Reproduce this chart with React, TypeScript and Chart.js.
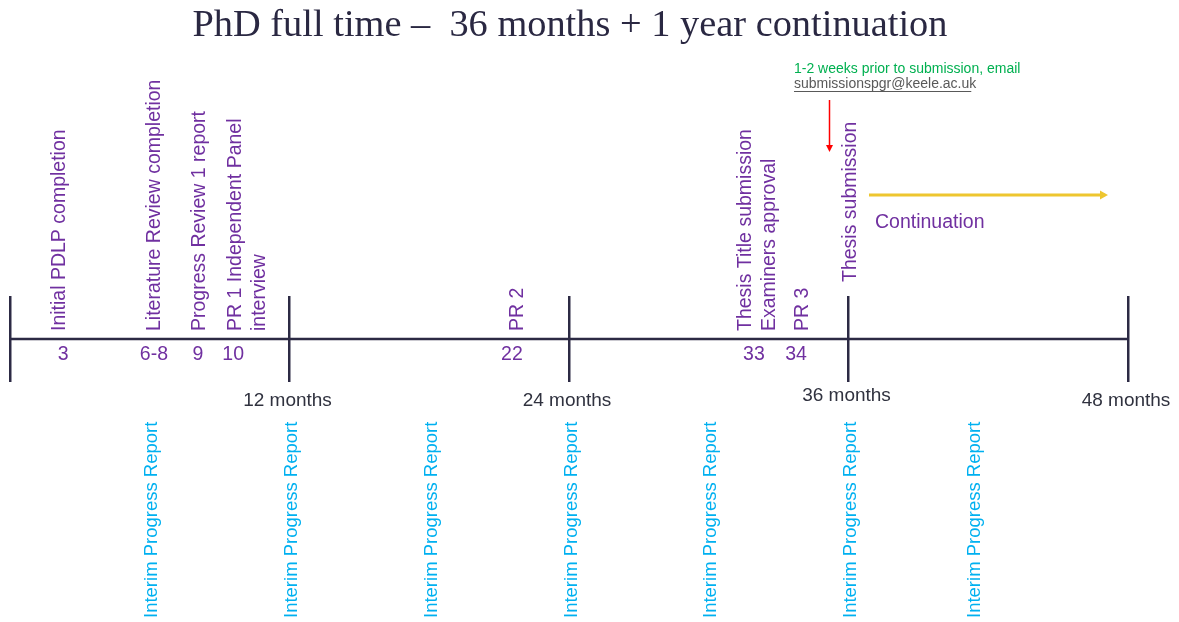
import { useEffect, useRef } from "react";
import { Chart, registerables } from "chart.js";

Chart.register(...registerables);

// ---------- data ----------
const TITLE = "PhD full time \u2013  36 months + 1 year continuation";

const axisMonths = [0, 12, 24, 36, 48];
const axisLabels = ["", "12 months", "24 months", "36 months", "48 months"];

const milestoneLabels = [
  "Initial PDLP completion",
  "Literature Review completion",
  "Progress Review 1 report",
  "PR 1 Independent Panel\ninterview",
  "PR 2",
  "Thesis Title submission\nExaminers approval",
  "PR 3",
];
// where each label sits along the month axis (as drawn)
const milestoneLabelAt = [2.02, 6.1, 8.05, 9.58, 21.68, 31.47, 33.92];
const milestoneNumbers = ["3", "6-8", "9", "10", "22", "33", "34"];
const milestoneNumberAt = [2.28, 6.18, 8.07, 9.58, 21.55, 31.94, 33.75];

const interimLabel = "Interim Progress Report";
const interimAt = [6, 12, 18, 24, 30, 36, 41.3];

const submissionLabel = "Thesis submission";
const submissionAt = 36;

const continuationLabel = "Continuation";
const continuationFrom = 36.88;
const continuationTo = 47.14;

const noteLines = ["1-2 weeks prior to submission, email", "submissionspgr@keele.ac.uk"];
const noteAt = 33.66;
const reminderAt = 35.17;

// ---------- styles ----------
const SANS = '"Liberation Sans", Arial, sans-serif';
const PURPLE = "#7030A0";
const BLUE = "#00B0F0";
const GREEN = "#00B050";
const LINE = "#2c2a44";
const DARK = "#30323f";

const drawRot = (ctx: CanvasRenderingContext2D, text: string, x: number, yStart: number, lh: number) => {
  const lines = text.split("\n");
  ctx.save();
  ctx.translate(x + 2.5, yStart);
  ctx.rotate(-Math.PI / 2);
  ctx.textAlign = "left";
  ctx.textBaseline = "middle";
  lines.forEach((l, i) => ctx.fillText(l, 0, i * lh));
  ctx.restore();
};

const overlay = {
  id: "timelineText",
  afterDraw(chart: any) {
    const ctx: CanvasRenderingContext2D = chart.ctx;
    const xs = chart.scales.x;
    const px = (m: number) => xs.getPixelForValue(m);
    ctx.save();

    // title
    ctx.font = '38px "Liberation Serif", serif';
    const tw = ctx.measureText(TITLE).width;
    ctx.save();
    ctx.translate(570, 36);
    ctx.scale(755 / tw, 1);
    ctx.fillStyle = "#2a2842";
    ctx.textAlign = "center";
    ctx.textBaseline = "alphabetic";
    ctx.fillText(TITLE, 0, 0);
    ctx.restore();

    // milestone labels (rotated)
    ctx.fillStyle = PURPLE;
    ctx.font = `19.5px ${SANS}`;
    milestoneLabels.forEach((l, i) => drawRot(ctx, l, px(milestoneLabelAt[i]), 331, 24));
    drawRot(ctx, submissionLabel, px(submissionAt), 282, 24);

    // milestone numbers
    ctx.textAlign = "center";
    ctx.textBaseline = "middle";
    milestoneNumbers.forEach((n, i) => ctx.fillText(n, px(milestoneNumberAt[i]), 355));

    // month labels
    const dy = [0, 0, 0, -5, 0];
    ctx.fillStyle = DARK;
    ctx.font = `19px ${SANS}`;
    axisLabels.forEach((l, i) => {
      if (l) ctx.fillText(l, px(axisMonths[i]) - 2, 401 + dy[i]);
    });

    // interim reports
    ctx.fillStyle = BLUE;
    ctx.font = `18.5px ${SANS}`;
    interimAt.forEach((m) => drawRot(ctx, interimLabel, px(m), 618, 24));

    // continuation arrow + text
    const y0 = 195;
    const ax0 = px(continuationFrom);
    const ax1 = px(continuationTo);
    ctx.strokeStyle = "#EEC62F";
    ctx.fillStyle = "#EEC62F";
    ctx.lineWidth = 3;
    ctx.beginPath();
    ctx.moveTo(ax0, y0);
    ctx.lineTo(ax1 - 7, y0);
    ctx.stroke();
    ctx.beginPath();
    ctx.moveTo(ax1 - 8, y0 - 4.5);
    ctx.lineTo(ax1, y0);
    ctx.lineTo(ax1 - 8, y0 + 4.5);
    ctx.closePath();
    ctx.fill();

    ctx.fillStyle = PURPLE;
    ctx.font = `19.5px ${SANS}`;
    ctx.textAlign = "left";
    ctx.textBaseline = "middle";
    ctx.fillText(continuationLabel, px(continuationFrom) + 6, 223);

    // note
    const nx = px(noteAt);
    ctx.font = `14px ${SANS}`;
    ctx.fillStyle = GREEN;
    ctx.fillText(noteLines[0], nx, 69);
    ctx.fillStyle = "#595959";
    ctx.fillText(noteLines[1], nx, 84);
    const ew = ctx.measureText(noteLines[1]).width;
    ctx.strokeStyle = "#595959";
    ctx.lineWidth = 1;
    ctx.beginPath();
    ctx.moveTo(nx, 91.5);
    ctx.lineTo(nx + ew - 5, 91.5);
    ctx.stroke();

    // red reminder arrow
    const rx = Math.round(px(reminderAt)) + 0.5;
    ctx.strokeStyle = "#FF0000";
    ctx.fillStyle = "#FF0000";
    ctx.lineWidth = 1.5;
    ctx.beginPath();
    ctx.moveTo(rx, 100);
    ctx.lineTo(rx, 146);
    ctx.stroke();
    ctx.beginPath();
    ctx.moveTo(rx - 3.5, 145);
    ctx.lineTo(rx + 3.5, 145);
    ctx.lineTo(rx, 152);
    ctx.closePath();
    ctx.fill();

    ctx.restore();
  },
};

export default function App() {
  const ref = useRef<HTMLCanvasElement | null>(null);
  useEffect(() => {
    if (!ref.current) return;
    const chart = new Chart(ref.current, {
      type: "line",
      data: {
        datasets: [
          {
            data: [
              { x: axisMonths[0], y: 0 },
              { x: axisMonths[axisMonths.length - 1], y: 0 },
            ],
            borderColor: LINE,
            borderWidth: 2.5,
            pointRadius: 0,
          },
        ],
      },
      options: {
        animation: false,
        responsive: false,
        events: [],
        layout: { padding: { left: 10, right: 51, top: 296, bottom: 240 } },
        plugins: {
          legend: { display: false },
          tooltip: { enabled: false },
          title: { display: false },
        },
        scales: {
          x: {
            type: "linear",
            min: 0,
            max: 48,
            ticks: { display: false, stepSize: 12 },
            grid: { color: LINE, lineWidth: 2.5, drawTicks: false },
            border: { display: false },
          },
          y: { display: false, min: -1, max: 1 },
        },
      },
      plugins: [overlay],
    } as any);
    return () => chart.destroy();
  }, []);

  return (
    <div style={{ position: "fixed", left: 0, top: 0, width: 1179, height: 622, background: "#fff" }}>
      <canvas ref={ref} width={1179} height={622} style={{ display: "block" }} />
    </div>
  );
}
